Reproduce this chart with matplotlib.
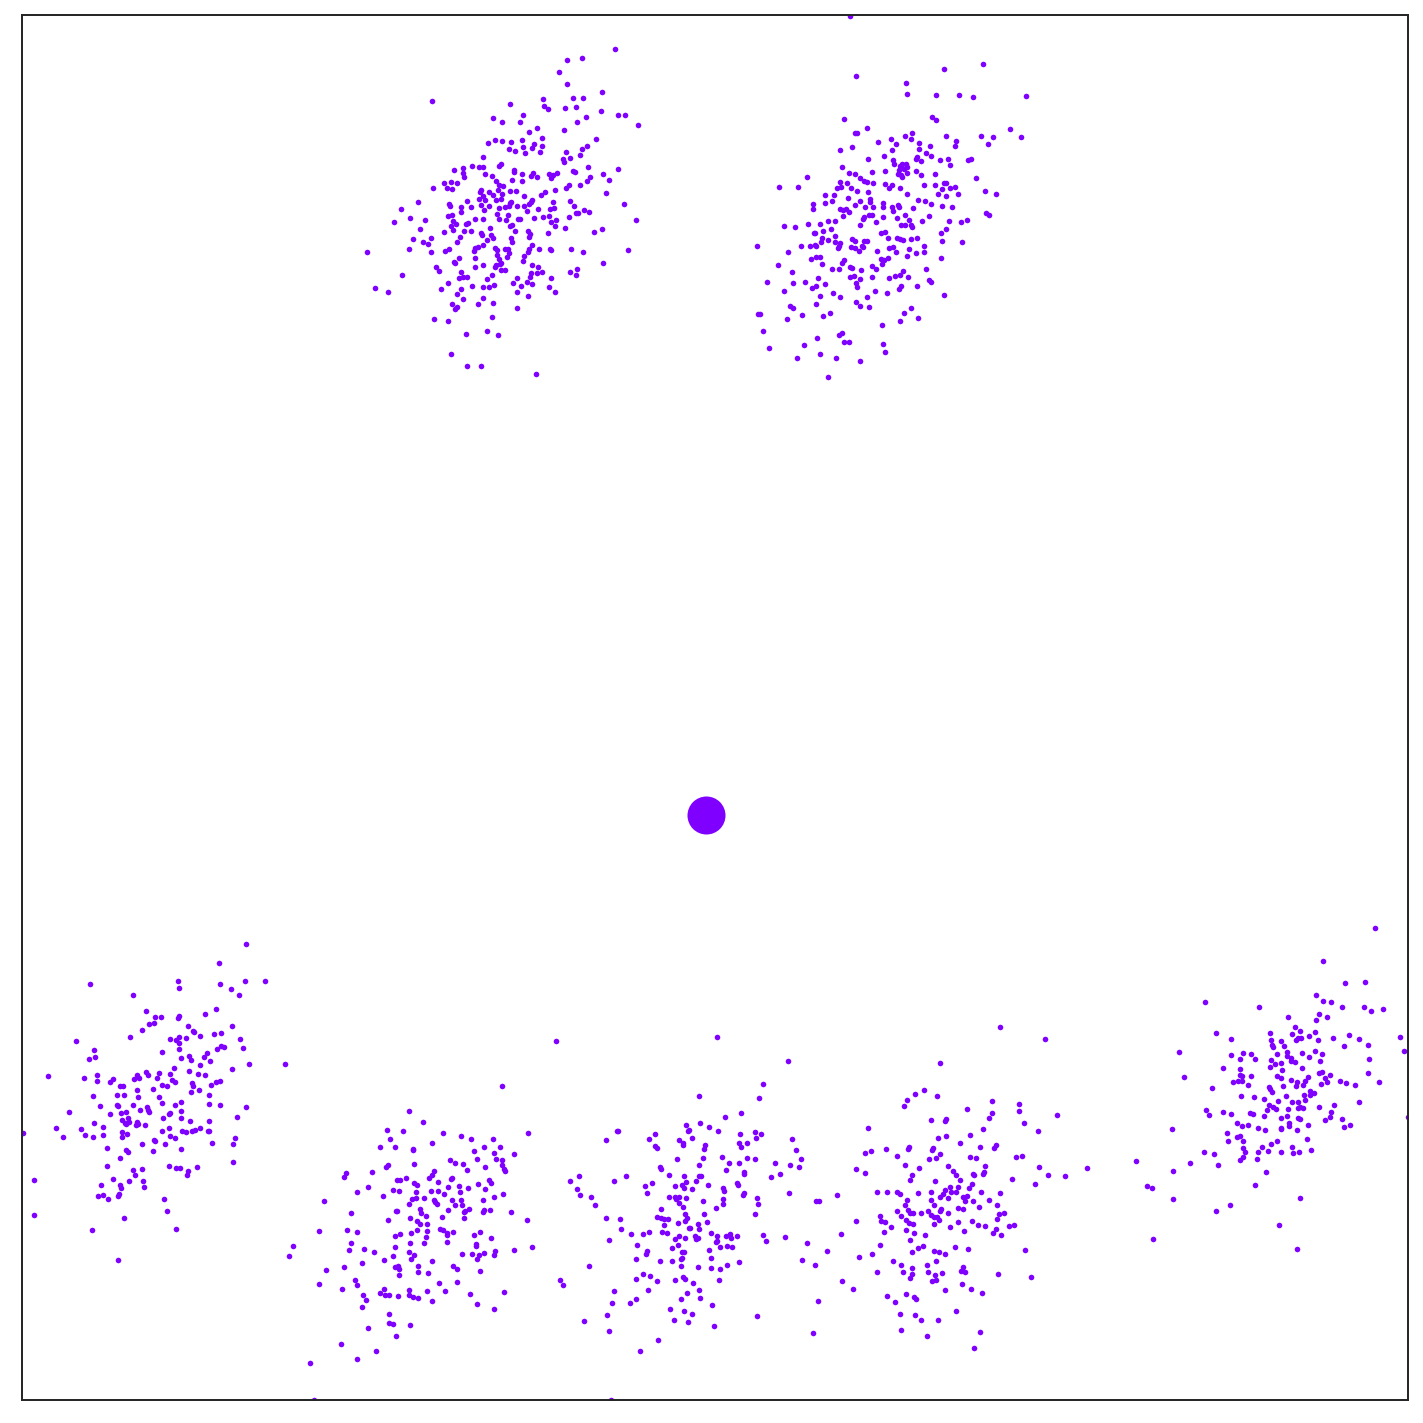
import numpy as np
import matplotlib
matplotlib.use("Agg")
import matplotlib.pyplot as plt

# points read off 3x crops of the picture: (x, y) in crop pixels,
# converted with the crop origin (image pixels, y downwards)

c1_origin = (355, 40)
c1 = [(778,25),(634,58),(679,52),(610,94),(634,130),(740,154),(229,181),(463,190),(562,175),(566,198),(578,205),(628,202),(652,172),(682,172),(661,199),(736,211),(787,223),(808,223),(848,253),(502,223),(412,232),(439,246),(493,244),(664,244),(691,229),(520,274),(545,262),(625,268),(721,295),(397,307),(418,298),(439,301),(466,304),(499,298),(560,292),(460,325),(478,331),(502,319),(508,337),(529,322),(535,310),(553,334),(559,316),(695,316),(680,325),(674,343),(631,334),(622,355),(626,364),(643,352),(382,349),(349,376),(370,379),(382,379),(322,382),(322,397),(325,409),(295,388),(430,376),(436,370),(475,388),(475,394),(500,400),(527,406),(533,397),(545,409),(582,400),(586,413),(592,403),(604,397),(653,391),(659,394),(698,379),(787,385),(742,400),(760,418),(704,409),(694,421),(751,457),(674,433),(641,433),(631,442),(388,400),(409,406),(421,421),(430,433),(427,448),(442,436),(469,418),(499,421),(463,451),(481,451),(439,460),(412,463),(265,427),(286,424),(304,427),(274,442),(289,445),(232,442),(373,454),(376,448),(400,454),(370,475),(382,466),(388,478),(421,478),(436,475),(463,487),(460,497),(448,499),(466,485),(484,496),(505,466),(505,496),(520,490),(527,484),(530,478),(557,463),(568,454),(598,448),(593,486),(596,504),(584,505),(643,481),(655,496),(668,517),(662,517),(686,508),(700,514),(805,490),(841,538),(187,484),(136,505),(115,544),(163,532),(208,538),(193,565),(280,490),(283,496),(316,499),(316,514),(346,499),(334,481),(376,493),(385,508),(400,496),(430,502),(424,520),(457,523),(451,538),(430,535),(487,535),(493,535),(514,511),(547,505),(536,532),(562,529),(580,526),(587,544),(602,538),(600,556),(628,562),(640,529),(277,526),(289,523),(292,541),(286,556),(292,568),(265,574),(301,550),(331,550),(337,547),(358,535),(382,535),(325,571),(346,571),(376,577),(379,583),(403,562),(406,583),(394,598),(412,592),(463,556),(469,553),(478,571),(466,592),(469,604),(517,571),(523,580),(520,589),(577,577),(715,574),(739,565),(172,595),(160,628),(202,604),(217,610),(226,592),(226,637),(268,634),(280,628),(304,604),(313,589),(295,667),(298,670),(310,655),(358,625),(355,634),(367,622),(382,613),(358,655),(418,625),(424,631),(424,646),(430,658),(448,628),(457,628),(454,652),(460,640),(520,628),(517,637),(529,613),(550,628),(583,628),(587,631),(646,628),(682,637),(817,631),(742,670),(34,637),(141,706),(58,745),(97,757),(241,682),(250,694),(277,730),(256,748),(316,697),(310,715),(322,712),(334,712),(304,763),(316,748),(322,778),(289,793),(298,808),(304,800),(349,739),(358,682),(382,676),(382,742),(382,775),(367,793),(394,718),(409,706),(401,742),(415,736),(418,682),(412,790),(421,676),(436,670),(436,691),(448,691),(433,673),(472,730),(484,715),(484,757),(496,739),(502,664),(505,649),(514,727),(517,769),(523,712),(526,700),(529,676),(529,733),(547,682),(544,700),(559,697),(586,715),(580,742),(600,757),(643,697),(661,706),(664,688),(484,805),(409,832),(394,874),(427,886),(331,883),(235,838),(277,844),(286,943),(334,979),(376,979),(541,1003)]

c2_origin = (745, 10)
c2 = [(316,17),(334,196),(484,217),(487,250),(574,253),(598,175),(715,160),(643,253),(685,259),(844,256),(298,325),(562,319),(574,328),(367,352),(331,367),(337,367),(502,367),(499,385),(481,376),(604,376),(709,376),(745,379),(796,355),(829,379),(730,400),(634,391),(631,406),(400,394),(439,385),(454,400),(442,418),(322,409),(286,418),(523,397),(523,415),(556,406),(544,427),(559,436),(517,439),(514,445),(527,451),(586,448),(610,445),(616,463),(670,448),(679,445),(370,445),(418,436),(445,448),(448,460),(466,466),(472,460),(484,460),(487,469),(478,475),(463,478),(460,490),(469,493),(472,499),(487,487),(514,481),(529,493),(571,490),(292,469),(313,487),(331,490),(346,502),(358,511),(367,514),(382,484),(385,517),(421,481),(421,520),(433,532),(442,523),(466,532),(487,550),(538,523),(571,523),(596,517),(604,517),(580,550),(592,535),(616,532),(631,529),(604,556),(640,550),(694,502),(721,541),(754,550),(187,499),(103,529),(160,529),(286,514),(289,529),(277,532),(307,517),(319,532),(337,541),(370,544),(241,553),(268,553),(241,577),(262,571),(205,580),(205,595),(310,562),(331,583),(346,571),(376,565),(376,574),(361,589),(385,589),(415,577),(415,589),(442,589),(445,601),(460,583),(463,589),(505,592),(520,568),(541,571),(559,580),(592,586),(622,589),(286,595),(295,598),(304,595),(313,604),(295,616),(355,625),(358,619),(373,613),(382,613),(415,619),(457,622),(481,613),(469,643),(481,643),(493,628),(499,643),(502,649),(532,631),(553,616),(613,631),(649,634),(667,628),(724,607),(733,613),(118,646),(151,649),(190,640),(226,640),(250,631),(271,631),(235,661),(259,655),(208,667),(211,667),(346,643),(394,634),(271,676),(232,682),(229,694),(250,688),(271,694),(286,697),(280,715),(283,709),(322,685),(331,691),(358,691),(367,691),(319,712),(331,715),(343,724),(352,706),(355,712),(409,667),(421,664),(430,682),(457,682),(466,685),(475,688),(499,685),(517,682),(589,667),(604,655),(592,691),(652,694),(37,706),(130,727),(169,709),(196,706),(211,703),(214,706),(397,724),(433,715),(445,712),(454,727),(493,718),(514,730),(538,709),(538,727),(487,739),(100,766),(199,748),(214,742),(226,742),(232,763),(262,778),(283,778),(292,760),(298,751),(316,772),(322,775),(349,781),(382,769),(394,778),(412,763),(409,748),(418,751),(430,745),(589,745),(142,787),(67,817),(145,820),(118,844),(181,817),(220,805),(202,835),(214,829),(241,823),(316,802),(328,799),(346,808),(334,820),(337,832),(382,802),(433,805),(451,799),(466,796),(475,784),(490,802),(463,838),(469,829),(517,829),(544,778),(553,811),(559,817),(391,844),(427,850),(598,856),(226,859),(265,850),(286,862),(136,889),(145,895),(214,883),(334,877),(346,889),(367,862),(373,892),(40,913),(46,913),(127,928),(172,916),(235,919),(256,910),(412,946),(466,934),(478,910),(499,895),(520,925),(55,964),(73,1015),(178,1006),(217,985),(283,976),(292,970),(298,997),(313,997),(415,1003),(421,1027),(157,1045),(226,1033),(274,1045),(346,1054),(250,1102)]

c3_origin = (20, 935)
c3 = [(676,28),(595,85),(208,148),(472,139),(475,160),(598,148),(631,163),(655,181),(673,139),(733,139),(337,181),(376,229),(403,247),(421,247),(385,268),(400,265),(364,286),(472,250),(475,244),(553,238),(586,223),(502,274),(517,289),(520,292),(538,304),(580,298),(601,295),(634,274),(658,313),(667,340),(166,319),(328,307),(448,313),(466,316),(475,307),(475,325),(496,310),(475,343),(589,343),(601,334),(610,337),(220,346),(223,367),(205,373),(424,352),(481,370),(505,364),(511,376),(559,355),(550,367),(568,379),(538,391),(685,388),(793,388),(634,403),(82,424),(190,430),(229,421),(229,439),(268,442),(277,433),(298,454),(307,454),(340,433),(349,421),(355,430),(376,412),(382,421),(409,430),(415,415),(448,418),(454,436),(463,442),(460,400),(505,409),(532,418),(553,421),(514,445),(517,454),(511,472),(535,466),(571,451),(586,442),(598,439),(217,484),(238,514),(289,481),(310,481),(349,466),(352,487),(397,463),(415,487),(424,451),(439,454),(424,505),(463,511),(481,502),(565,481),(565,508),(598,511),(676,517),(145,532),(268,538),(289,511),(292,514),(301,535),(316,532),(337,511),(358,526),(379,517),(382,526),(385,532),(304,556),(313,565),(322,550),(325,562),(316,568),(349,562),(352,568),(346,571),(373,571),(427,550),(445,538),(448,535),(481,529),(481,550),(508,559),(565,559),(649,547),(106,580),(127,607),(181,583),(193,601),(220,565),(217,607),(247,577),(247,601),(304,592),(304,607),(319,598),(424,589),(445,580),(448,604),(463,610),(484,589),(496,592),(514,589),(523,586),(538,580),(562,589),(565,589),(574,625),(643,610),(637,628),(8,595),(259,640),(298,670),(316,646),(322,652),(364,628),(397,649),(400,616),(403,619),(433,628),(481,643),(637,682),(259,694),(337,706),(343,721),(364,703),(367,739),(370,757),(325,739),(277,733),(298,751),(301,760),(241,751),(232,784),(247,781),(262,793),(292,784),(295,778),(445,694),(466,700),(478,700),(502,709),(499,721),(529,697),(430,793),(439,829),(466,883),(40,736),(40,841),(310,850),(214,886),(292,976)]

c4_origin = (280, 1075)
c4 = [(664,34),(385,109),(427,142),(319,166),(367,169),(328,193),(298,217),(343,217),(397,223),(397,226),(454,205),(487,175),(541,184),(571,193),(637,193),(610,217),(658,217),(742,175),(580,229),(589,253),(640,235),(646,253),(664,256),(664,271),(670,283),(673,289),(700,238),(508,256),(523,265),(547,268),(559,286),(613,277),(400,268),(316,277),(322,271),(274,292),(196,295),(190,307),(262,337),(229,352),(130,379),(349,316),(358,316),(376,310),(337,346),(355,349),(400,325),(409,331),(406,352),(445,310),(454,301),(460,289),(472,322),(451,349),(472,349),(490,358),(502,337),(511,313),(514,310),(535,334),(538,352),(562,340),(592,328),(613,343),(625,316),(631,325),(640,367),(667,358),(307,364),(385,388),(394,373),(406,370),(430,370),(418,403),(421,415),(436,424),(460,376),(463,382),(469,388),(502,406),(514,376),(523,391),(541,376),(544,391),(550,412),(553,409),(565,403),(550,430),(607,376),(607,412),(610,406),(628,406),(691,412),(739,436),(211,415),(322,436),(349,409),(346,409),(388,430),(409,439),(418,448),(439,448),(484,427),(115,469),(199,466),(229,472),(343,484),(358,478),(391,475),(409,466),(439,469),(436,487),(430,505),(478,463),(487,466),(499,475),(499,481),(517,472),(499,502),(580,481),(598,472),(631,490),(211,505),(205,526),(250,523),(280,532),(343,517),(385,532),(388,505),(400,541),(391,553),(337,544),(310,556),(454,559),(544,538),(574,538),(586,508),(586,514),(595,541),(589,553),(610,535),(640,541),(643,529),(700,526),(754,517),(37,514),(25,544),(136,586),(190,577),(244,565),(343,577),(352,574),(355,583),(355,601),(412,574),(412,592),(442,595),(517,574),(529,583),(598,589),(115,628),(184,643),(223,616),(229,631),(247,661),(256,676),(244,697),(298,655),(310,643),(313,661),(325,661),(352,664),(385,646),(385,661),(397,667),(412,670),(439,649),(454,679),(475,625),(493,649),(529,622),(568,658),(589,688),(640,703),(670,652),(325,718),(325,745),(337,748),(388,751),(262,760),(346,784),(181,808),(286,829),(229,853),(88,865),(100,975)]

c5_origin = (545, 1025)
c5 = [(31,49),(517,37),(730,109),(655,178),(643,220),(463,214),(589,265),(541,277),(424,301),(466,295),(493,307),(520,319),(430,319),(433,316),(586,328),(631,322),(649,328),(634,340),(583,355),(589,367),(607,355),(742,343),(754,376),(769,403),(763,427),(736,421),(691,415),(706,448),(679,457),(733,505),(214,319),(217,319),(181,346),(331,328),(313,343),(331,364),(337,370),(403,346),(415,355),(415,361),(442,340),(481,361),(478,373),(475,400),(397,403),(463,421),(532,397),(553,415),(544,436),(583,415),(607,400),(631,403),(598,442),(598,448),(346,427),(349,433),(373,451),(418,454),(424,472),(454,469),(463,454),(469,454),(490,481),(391,484),(412,481),(418,490),(442,493),(535,490),(538,499),(535,523),(535,538),(577,475),(580,481),(598,505),(595,511),(637,520),(640,538),(631,568),(322,475),(301,484),(307,505),(241,454),(205,469),(100,454),(73,469),(94,493),(103,511),(136,517),(148,541),(373,517),(391,517),(394,523),(403,517),(403,535),(424,520),(415,547),(475,529),(514,550),(349,553),(337,577),(349,580),(358,583),(370,583),(358,601),(421,568),(427,580),(421,589),(400,595),(433,610),(436,610),(460,598),(463,613),(478,568),(487,592),(181,580),(223,583),(226,613),(256,628),(295,628),(313,622),(352,622),(367,625),(190,646),(274,661),(307,679),(304,688),(271,703),(391,643),(403,634),(421,640),(451,634),(454,643),(460,640),(499,625),(517,634),(514,652),(517,649),(526,667),(544,634),(556,628),(559,640),(547,664),(562,667),(577,634),(655,631),(664,649),(721,637),(787,655),(772,706),(382,670),(400,661),(412,682),(418,682),(409,703),(412,700),(409,724),(346,709),(382,709),(460,727),(493,676),(499,700),(499,730),(526,733),(547,721),(583,712),(130,724),(43,766),(52,781),(271,763),(295,748),(316,754),(337,769),(391,766),(415,757),(421,763),(445,775),(463,796),(466,820),(427,805),(409,823),(310,796),(205,799),(199,835),(253,835),(271,823),(376,853),(418,859),(442,868),(388,886),(430,892),(502,841),(523,766),(508,904),(637,874),(184,871),(115,889),(190,919),(340,946),(286,979),(196,1128)]

c6_origin = (795, 1015)
c6 = [(616,37),(751,73),(436,145),(388,226),(361,238),(337,256),(328,274),(427,244),(517,283),(592,259),(592,295),(583,310),(673,268),(673,289),(688,325),(787,301),(730,349),(565,343),(526,361),(454,313),(451,319),(409,316),(430,370),(454,364),(496,385),(220,340),(211,415),(229,409),(274,403),(307,424),(340,403),(343,397),(331,451),(373,460),(352,481),(346,496),(412,406),(415,400),(403,433),(424,430),(436,418),(460,454),(475,469),(484,481),(496,496),(421,499),(526,427),(544,430),(556,397),(598,400),(604,391),(571,454),(565,478),(568,472),(535,478),(538,481),(532,508),(523,520),(664,427),(682,424),(652,493),(721,508),(733,457),(760,481),(811,484),(877,460),(184,463),(211,475),(127,541),(64,559),(73,559),(247,532),(277,532),(307,532),(316,538),(370,535),(409,532),(436,547),(445,538),(451,526),(466,517),(469,532),(484,532),(490,517),(460,550),(505,547),(511,559),(517,544),(535,559),(559,532),(583,556),(616,535),(607,571),(337,556),(331,571),(340,586),(346,595),(355,595),(307,589),(319,604),(334,616),(343,625),(355,628),(379,595),(409,556),(418,571),(400,589),(409,601),(418,607),(427,607),(433,616),(439,583),(436,589),(460,595),(490,580),(505,583),(553,577),(532,619),(550,631),(571,634),(607,613),(613,598),(628,595),(619,661),(604,643),(595,655),(643,634),(658,631),(418,628),(466,637),(490,622),(508,649),(256,604),(259,619),(271,622),(289,637),(268,652),(184,619),(139,658),(334,646),(358,655),(346,676),(391,661),(97,709),(61,751),(193,727),(232,718),(256,691),(352,712),(370,700),(385,694),(418,709),(433,712),(451,718),(481,697),(520,703),(295,739),(319,751),(352,760),(352,778),(346,790),(325,772),(247,772),(397,751),(400,772),(424,739),(421,781),(424,796),(412,799),(442,775),(505,757),(499,769),(511,772),(502,808),(529,823),(562,835),(610,778),(691,706),(709,787),(142,799),(175,823),(70,859),(277,844),(301,862),(334,838),(358,847),(364,853),(451,826),(316,898),(361,901),(379,916),(430,916),(484,889),(319,946),(397,964),(556,952),(538,1000),(55,955)]

c7_origin = (1125, 915)
c7 = [(751,40),(595,139),(661,205),(721,202),(574,241),(595,259),(619,262),(652,277),(718,277),(739,289),(775,283),(241,262),(403,277),(490,307),(583,298),(607,307),(574,316),(511,337),(502,358),(526,349),(529,370),(514,376),(520,370),(553,364),(571,352),(580,376),(625,370),(673,361),(703,373),(730,391),(658,394),(826,367),(838,409),(274,355),(319,373),(436,355),(439,376),(442,391),(445,397),(469,379),(478,394),(163,412),(178,487),(319,421),(355,415),(379,418),(391,433),(346,433),(457,418),(487,412),(487,424),(439,436),(469,445),(451,448),(436,457),(499,430),(499,439),(511,442),(532,415),(553,427),(571,409),(592,418),(586,439),(733,433),(730,475),(763,502),(295,460),(346,463),(346,481),(352,484),(379,484),(370,511),(325,502),(340,499),(352,499),(472,466),(457,484),(469,490),(532,460),(499,496),(517,502),(514,514),(535,511),(541,499),(550,487),(583,475),(592,472),(601,490),(607,502),(616,481),(589,508),(646,499),(664,505),(691,511),(262,520),(433,517),(436,523),(442,532),(475,514),(349,544),(388,547),(418,553),(460,559),(484,544),(502,562),(520,562),(538,541),(541,556),(556,529),(556,541),(568,535),(244,586),(253,601),(295,592),(319,598),(376,595),(385,598),(418,604),(427,586),(433,571),(445,577),(454,583),(490,583),(487,604),(469,610),(520,580),(526,577),(535,580),(520,610),(526,613),(583,577),(601,616),(616,607),(619,592),(628,571),(652,613),(658,637),(676,631),(703,562),(849,607),(142,643),(337,625),(352,634),(370,631),(400,640),(421,646),(469,640),(469,643),(493,625),(493,634),(517,646),(550,631),(307,655),(310,679),(337,667),(346,664),(355,679),(439,688),(457,679),(412,697),(355,700),(361,712),(400,712),(430,709),(469,712),(502,697),(505,715),(523,712),(547,673),(559,706),(238,712),(268,718),(280,751),(355,727),(346,736),(397,733),(196,745),(34,739),(145,769),(424,772),(391,811),(67,814),(82,820),(145,853),(316,871),(274,889),(526,850),(463,931),(85,973),(517,1003)]

# the single large point in the middle
centre_x = [706.3]
centre_y = [815.0]

clusters = [(c1_origin, c1), (c2_origin, c2), (c3_origin, c3), (c4_origin, c4),
            (c5_origin, c5), (c6_origin, c6), (c7_origin, c7)]

xs, ys = [], []
for (ox, oy), pts in clusters:
    a = np.array(pts, dtype=float)
    xs.append(ox + a[:, 0] / 3.0)
    ys.append(oy + a[:, 1] / 3.0)
x = np.concatenate(xs)
y = np.concatenate(ys)

colour = '#8000ff'

fig = plt.figure(figsize=(10, 10), dpi=142.3)
ax = fig.add_axes([22 / 1423, 23 / 1423, 1386 / 1423, 1385 / 1423])
ax.scatter(x, y, s=8, c=colour, linewidths=0)
ax.scatter(centre_x, centre_y, s=370, c=colour, linewidths=0)
ax.set_xlim(21.7, 1408)
ax.set_ylim(1400.5, 14.7)
ax.set_xticks([])
ax.set_yticks([])
for sp in ax.spines.values():
    sp.set_color('#262626')
    sp.set_linewidth(1.0)

fig.savefig('out.png', dpi=142.3)
